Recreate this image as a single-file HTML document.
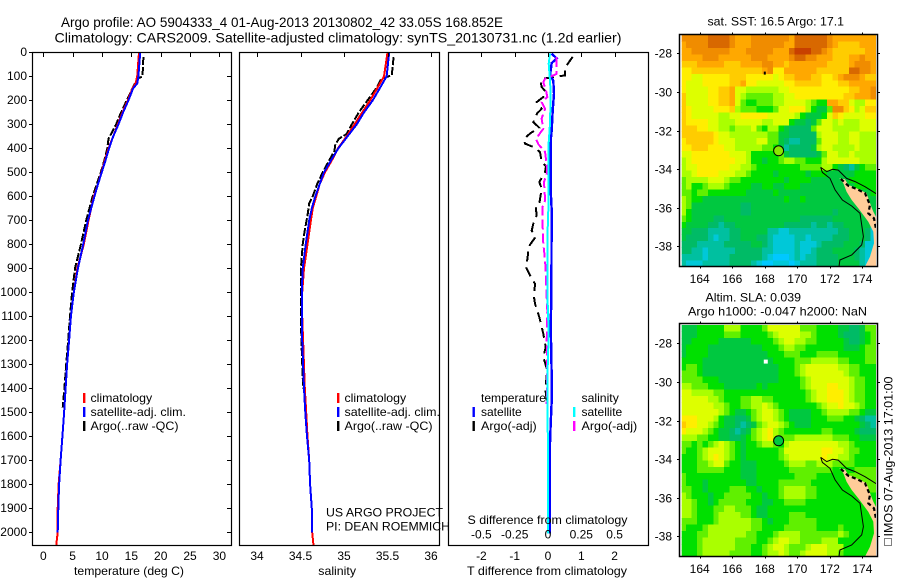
<!DOCTYPE html>
<html lang="en">
<head>
<meta charset="utf-8">
<title>Argo profile 5904333_4</title>
<style>
html,body{margin:0;padding:0;background:#fff;}
svg{display:block;font-family:"Liberation Sans",sans-serif;font-size:12px;fill:#000;}
.frame{fill:none;stroke:#000;stroke-width:1.2;}
</style>
</head>
<body>
<svg id="chart" xmlns="http://www.w3.org/2000/svg" width="900" height="580" viewBox="0 0 900 580">
  <defs>
    <clipPath id="map1clip"><rect x="681.7" y="35" width="194.3" height="231"/></clipPath>
    <clipPath id="map2clip"><rect x="681.7" y="325" width="194.3" height="231"/></clipPath>
  </defs>
  <rect x="0" y="0" width="900" height="580" fill="#fff"/>
  <text x="61" y="27" font-size="14" textLength="442" lengthAdjust="spacingAndGlyphs">Argo profile: AO 5904333_4 01-Aug-2013 20130802_42 33.05S 168.852E</text>
  <text x="54.5" y="42.5" font-size="14" textLength="567" lengthAdjust="spacingAndGlyphs">Climatology: CARS2009. Satellite-adjusted climatology: synTS_20130731.nc (1.2d earlier)</text>

  <g id="marks"></g>
  <g id="maps"></g>
  <g id="axes"></g>

  <rect class="frame" x="32.5" y="52.5" width="199" height="493"/>
  <rect class="frame" x="239.5" y="52.5" width="200" height="493"/>
  <rect class="frame" x="448.5" y="52.5" width="200" height="493"/>
  <rect class="frame" x="679.5" y="34.5" width="198" height="232" style="stroke-width:1.5"/>
  <rect class="frame" x="679.5" y="323.5" width="198" height="233" style="stroke-width:1.5"/>

  <text x="74" y="575" textLength="110" lengthAdjust="spacingAndGlyphs">temperature (deg C)</text>
  <text x="318.3" y="575" textLength="37.7" lengthAdjust="spacingAndGlyphs">salinity</text>
  <text x="467" y="575" textLength="160" lengthAdjust="spacingAndGlyphs">T difference from climatology</text>
  <text x="467.5" y="524" textLength="160" lengthAdjust="spacingAndGlyphs">S difference from climatology</text>

  <rect x="83" y="393" width="2.4" height="10" fill="#f00"/>
  <text x="90.5" y="402" textLength="61.7" lengthAdjust="spacingAndGlyphs">climatology</text>
  <rect x="83" y="407" width="2.4" height="10" fill="#00f"/>
  <text x="90.5" y="416" textLength="95.5" lengthAdjust="spacingAndGlyphs">satellite-adj. clim.</text>
  <rect x="83" y="421" width="2.4" height="10" fill="#000"/>
  <text x="90.5" y="430" textLength="88" lengthAdjust="spacingAndGlyphs">Argo(..raw -QC)</text>

  <rect x="337" y="393" width="2.4" height="10" fill="#f00"/>
  <text x="344.5" y="402" textLength="61.7" lengthAdjust="spacingAndGlyphs">climatology</text>
  <rect x="337" y="407" width="2.4" height="10" fill="#00f"/>
  <text x="344.5" y="416" textLength="95.5" lengthAdjust="spacingAndGlyphs">satellite-adj. clim.</text>
  <rect x="337" y="421" width="2.4" height="10" fill="#000"/>
  <text x="344.5" y="430" textLength="88" lengthAdjust="spacingAndGlyphs">Argo(..raw -QC)</text>

  <text x="326" y="516.5" textLength="117" lengthAdjust="spacingAndGlyphs">US ARGO PROJECT</text>
  <text x="326" y="530.5" textLength="124" lengthAdjust="spacingAndGlyphs">PI: DEAN ROEMMICH</text>

  <text x="481" y="402" textLength="65" lengthAdjust="spacingAndGlyphs">temperature</text>
  <rect x="472.5" y="407" width="2.4" height="10" fill="#00f"/>
  <text x="481" y="416" textLength="40.7" lengthAdjust="spacingAndGlyphs">satellite</text>
  <rect x="472.5" y="421" width="2.4" height="10" fill="#000"/>
  <text x="481" y="430" textLength="55.7" lengthAdjust="spacingAndGlyphs">Argo(-adj)</text>
  <text x="581.5" y="402" textLength="37.3" lengthAdjust="spacingAndGlyphs">salinity</text>
  <rect x="573" y="407" width="2.4" height="10" fill="#0ff"/>
  <text x="581.5" y="416" textLength="40.7" lengthAdjust="spacingAndGlyphs">satellite</text>
  <rect x="573" y="421" width="2.4" height="10" fill="#f0f"/>
  <text x="581.5" y="430" textLength="55.7" lengthAdjust="spacingAndGlyphs">Argo(-adj)</text>

  <text x="707.5" y="25.5" textLength="136.5" lengthAdjust="spacingAndGlyphs">sat. SST: 16.5 Argo: 17.1</text>
  <text x="705.5" y="301.5" textLength="95.5" lengthAdjust="spacingAndGlyphs">Altim. SLA: 0.039</text>
  <text x="688" y="315.5" textLength="179" lengthAdjust="spacingAndGlyphs">Argo h1000: -0.047 h2000: NaN</text>

  <rect x="884.5" y="538.5" width="7" height="7" fill="none" stroke="#000" stroke-width="1" stroke-dasharray="1 1"/>
  <text transform="translate(892.5,536.5) rotate(-90)" textLength="160" lengthAdjust="spacingAndGlyphs">IMOS 07-Aug-2013 17:01:00</text>
</svg>

<script>
// ---- profile data ----
const climDepths = [0,100,130,150,200,250,300,350,400,450,500,550,600,700,800,900,1000,1100,1200,1300,1400,1500,1600,1700,1800,1900,2000,2054];
const tempSat = [16.5,16.2,16.0,15.3,14.5,13.6,12.8,11.9,11.2,10.6,9.95,9.3,8.7,7.6,6.8,5.9,5.2,4.7,4.4,4.05,3.8,3.55,3.25,2.95,2.7,2.55,2.45];
const tempClim = [16.3,16.0,15.7,15.2,14.4,13.5,12.7,11.9,11.1,10.5,9.9,9.3,8.6,7.7,6.9,5.8,5.2,4.7,4.4,4.05,3.8,3.55,3.25,2.95,2.6,2.45,2.45,2.2];
const argoTempDepths = [20,100,110,150,200,270,300,360,400,450,500,550,600,700,800,900,1000,1100,1200,1300,1400,1480];
const argoTemp = [17.05,16.9,16.0,15.2,14.2,12.9,12.4,11.1,10.9,10.4,9.8,9.1,8.4,7.3,6.4,5.4,4.9,4.55,4.25,3.9,3.6,3.3];

const salDepths = [0,100,150,200,250,300,350,400,450,500,550,600,650,700,800,900,1000,1100,1200,1400,1500,1600,1700,1800,1900,2000,2054];
const salSat = [35.52,35.49,35.41,35.33,35.23,35.146,35.04,34.935,34.85,34.77,34.72,34.67,34.63,34.6,34.56,34.525,34.515,34.515,34.52,34.54,34.555,34.575,34.6,34.61,34.63,34.635];
const salClim = [35.5,35.46,35.38,35.3,35.21,35.12,35.03,34.93,34.86,34.78,34.72,34.68,34.64,34.62,34.58,34.54,34.52,34.52,34.53,34.55,34.565,34.58,34.6,34.61,34.63,34.635,34.65];
const argoSalDepths = [20,95,110,150,200,250,300,340,360,385,410,450,500,550,600,630,680,750,800,900,1000,1100,1200,1400];
const argoSal = [35.57,35.55,35.43,35.37,35.27,35.17,35.09,35.03,34.94,34.9,34.89,34.83,34.755,34.69,34.64,34.6,34.58,34.545,34.525,34.505,34.505,34.505,34.51,34.53];

const tDiffArgoDepths = [19,44,68,96,110,124,144,165,186,207,235,253,290,314,336,360,380,394,415,457,475,499,540,568,630,644,679,714,742,772,811,853,894,929,964,1019,1047,1103,1172,1228,1269,1325,1401,1450];
const tDiffArgo = [0.74,0.61,0.51,0.51,-0.19,-0.22,-0.19,-0.06,-0.14,-0.34,-0.19,-0.32,-0.44,-0.26,-0.52,-0.72,-0.69,-0.44,-0.24,-0.19,-0.06,-0.09,-0.26,-0.19,-0.26,-0.37,-0.34,-0.44,-0.49,-0.39,-0.59,-0.61,-0.66,-0.54,-0.39,-0.42,-0.39,-0.26,-0.14,-0.07,-0.14,-0.02,-0.08,-0.04];
const sDiffArgoDepths = [19,89,96,110,124,158,186,207,235,276,318,360,383,415,471,499,540,617,644,728,797,867,950,1019,1075,1200,1325,1464];
const sDiffArgo = [0.065,0.065,0.04,-0.022,-0.035,-0.015,-0.005,-0.048,-0.022,-0.048,-0.035,-0.09,-0.072,-0.022,-0.01,-0.005,-0.03,-0.022,-0.042,-0.04,-0.035,-0.022,-0.015,-0.01,-0.005,-0.01,-0.005,-0.01];
const tDiffSatDepths = [5,25,44,96,117,172,242,325,367,575,658,1033,1130,1353,1450,1546,1630,2004];
const tDiffSat = [0.11,0.26,0.11,0.06,0.16,0.18,0.14,0.11,0.08,0.08,0.11,0.1,0.08,0.11,0.11,0.08,0.06,0.06];
const sDiffSatDepths = [5,47,117,172,297,394,644,783,1033,1172,1325,2004];
const sDiffSat = [0.015,0.005,0.015,0.02,0.015,0.003,0.003,-0.005,-0.003,0.005,-0.003,0];

// ---- tick labels ----
const depthTicks = [0,100,200,300,400,500,600,700,800,900,1000,1100,1200,1300,1400,1500,1600,1700,1800,1900,2000];
const tempTicks = [0,5,10,15,20,25,30];
const salTicks = [34,34.5,35,35.5,36];
const tDiffTicks = [-2,-1,0,1,2];
const sDiffTicks = [-0.5,-0.25,0,0.25,0.5];
const lonTicks = [164,166,168,170,172,174];
const latTicks = [-28,-30,-32,-34,-36,-38];

// ---- map data ----
const mapPalette = ['#c84000','#d86800','#f08c00','#ffa800','#ffcc00','#ffee00','#ddff00','#aaff00','#60f000','#00e000','#00c840','#00bb66','#00c0a0','#00c8d8','#00c8ff'];
const sstGrid = [
"222221111233322222223111111233333333",
"322221111233322222233111111234444333",
"332222222333222223331000112344444433",
"333322233333322233332112233344433233",
"444333334443333223343333333444432223",
"554444444444444325533333344444411223",
"556655555444555556544333445543222344",
"566655555443556666655444445554433333",
"566665544366777777665555555555544332",
"466665544367888887766555555555443332",
"466665544368998887766667899334467755",
"456666555478889998665557 9aa82245764444",
"456666677665555566666 79aaa96456666 55",
"455556677766666776669aaba86676777666",
"4445566778777689779abbbb866677777666",
"444444566777777788aabbbbb76667766777",
"544444566677776688abccbbb86667766777",
"554445556677777889acbbbba76677776777",
"665555555666799999 8abbbbba8667767777",
"765555555566799a998 77889997666666777",
"766555555667789999999988887 79abca988",
"77655556667 789999a99999a999aaaaa9999",
"8777766678899999999a9999aaaaaaa99999",
"8799877789999aa99aa999aaaaaaaaaa9999",
"889889999999aaaaa9aaaaaaaaaaaaaaaaa9",
"7899aaaaaaaaaaaaaaa9aa9aaaaaaaaaaaaa",
"78aaaaaaaaabbaaaaaaaaaaaaaaaaaaaaaaa",
"79aaaaaaaaabbaaaaaaaaaaaaaaabaaaaaaa",
"89aaaabbaaaaaaaaaaaaaabbbbbbaaaaaaad",
"9aaaabbcbbaaaaaaaaabbbbbcbbcbbaaaaad",
"aabbbccccbbaaaaaccddcccccccccbbaaabd",
"abbbbcdccbbaaabbcddddccdccccbbbaaabd",
"bbbcccccbbbbbaabcddddcdddcbbbbaaabdd",
"bbccdcccccbbbbbccddddcddcbbbaaaabcdd",
"ccccdccccbbbbbbcdeeedcdccbbbbaaabcde",
"cdddcccccbbbbcdeedddedcccbbbbaaaacde"
];
const slaGrid = [
"aaa99999777999986666668889999aabba88",
"aaa99999888999998766667789999abbba98",
"aa99999aaaaaa99998766778899999abba98",
"a9999aaaaaaaaaa999877889999999aaa988",
"a9999aaaaaaaaaaa99988899988889999988",
"9999aaaaaaaaaaaaa9999888777778899988",
"9889aaaaaaaaaaaaaa999876666667788999",
"8889aaaaaaaaaaaaaa999876666666788999",
"8888999aaaaaaaaaaa999987666666678899",
"77888999aaaaaa9a99999987666556678899",
"66777788999999999999999876655567 8899",
"666667789998877889999998766555678899",
"666666778998877678999999987665667899",
"666666678 9aa98766789aaaa9987777889aa",
"5556667 9aabba876678 9aaaa9998889 9abc",
"45566789aabcba876678 9aaa999999999abc",
"566678 9aabcba87657899999998899 99abb",
"77788 99aabba9876578887777777888 99aa",
"889898 76789a99877897666666666778 999",
"899876667 89a9999998666666655667 8899",
"99987656789a999999876666665667 78999",
"99988766899aaa99999877788777888 8999",
"99988888999aaa999999888888889999888",
"89999999999aaa99999998888999999 888",
"8999a9999999aa99998888889 99999 9998",
"8899a9999888 99a99987777889 99999998",
"78999a998888899a99877778899999999 9",
"77899a988888999aa99888899999999 999",
"7789998877888 9aa99999999999999 9999",
"7789998777788 9aa9999 88899999999999",
"88899987777778 89a999888889 99999999",
"89998777777778 89999888888999 9 89999",
"99988777777788 9998777788888 8 87899",
"999877777788 8899876677888 8 7779999",
"99987777778 889987667 888766677 79999",
"99987777788 8899877678 87666677 8 999"
];
const floatLon = [168.85];
const floatLat = [-33.05];
const landLon = [172.58,172.93,173.13,173.65,174.26,174.51,174.67,174.88,174.92,174.16,174.47,174.71,174.67,174.36,173.75,173.34,173.03,172.83];
const landLat = [-34.48,-34.53,-34.82,-35.0,-35.25,-35.86,-36.2,-36.55,-39.05,-39.05,-38.54,-37.84,-37.24,-36.73,-36.03,-35.6,-35.17,-34.74];
const shelfLon = [171.44,171.54,172.01,172.32,172.77,173.34,173.85,174.06,173.96,173.34,172.62,172.56];
const shelfLat = [-33.91,-34.17,-34.48,-35.08,-35.6,-35.91,-36.29,-37.5,-37.93,-38.45,-38.71,-39.05];
const northShelfLon = [171.44,171.81,172.17,172.52,173.03,173.55,174.16,174.88];
const northShelfLat = [-33.91,-34.13,-34.01,-34.05,-34.48,-34.65,-34.91,-35.29];
const coastLon = [172.67,173.13,173.65,174.16,174.47,174.36,174.71,174.83];
const coastLat = [-34.51,-34.86,-35.03,-35.25,-35.86,-36.29,-36.55,-37.07];

// ---- axis functions ----
const SVGNS = 'http://www.w3.org/2000/svg';
const depthY = d => 52.4 + d * 0.24;
const tempX = t => 43.3 + t * 5.87;
const salX = s => 257 + (s - 34) * 87;
const tDiffX = t => 548 + t * 33.3;
const sDiffX = s => 548 + s * 133.2;
const lonX = lon => 699.7 + (lon - 164) * 16.27;
const latY = lat => 53.3 + (-28 - lat) * 19.3;
const MAP2_SHIFT = 290;

const marks = document.getElementById('marks');
const mapsG = document.getElementById('maps');
const axes = document.getElementById('axes');

function mk(tag, attrs, parent) {
  const el = document.createElementNS(SVGNS, tag);
  for (const k in attrs) el.setAttribute(k, attrs[k]);
  parent.appendChild(el);
  return el;
}
function profile(xs, ds, xf, color, width, dash) {
  const pts = xs.map((v, i) => xf(v).toFixed(1) + ',' + depthY(ds[i]).toFixed(1)).join(' ');
  const a = {points: pts, fill: 'none', stroke: color, 'stroke-width': width, 'shape-rendering': 'crispEdges'};
  if (dash) a['stroke-dasharray'] = dash;
  return mk('polyline', a, marks);
}

// temperature panel
let el;
el = profile(argoTemp, argoTempDepths, tempX, '#000', 2, '8 2');


el = profile(tempClim, climDepths, tempX, '#f00', 2);


el = profile(tempSat, climDepths, tempX, '#00f', 2);



// salinity panel
el = profile(argoSal, argoSalDepths, salX, '#000', 2, '8 2');


el = profile(salClim, salDepths, salX, '#f00', 2);


el = profile(salSat, salDepths, salX, '#00f', 2);



// difference panel
el = profile(tDiffArgo, tDiffArgoDepths, tDiffX, '#000', 2, '10 6');


el = profile(tDiffSat, tDiffSatDepths, tDiffX, '#00f', 2.4);


el = profile(sDiffArgo, sDiffArgoDepths, sDiffX, '#f0f', 2, '10 4');


el = profile(sDiffSat, sDiffSatDepths, sDiffX, '#0ff', 2);



// depth labels and ticks
depthTicks.forEach(d => {
  const y = Math.floor(depthY(d)) + 0.5;
  const lbl = mk('text', {x: 27, y: y + 3.5, 'text-anchor': 'end'}, axes);
  lbl.textContent = String(d);
  
  
  const t1 = mk('line', {x1: 29, x2: 32.5, y1: y, y2: y, stroke: '#000'}, axes);
  
  
  const t2 = mk('line', {x1: 227, x2: 231.5, y1: y, y2: y, stroke: '#000'}, axes);
  
  
});

function topTick(x) {
  const rx = Math.round(x) + 0.5;
  return mk('line', {x1: rx, x2: rx, y1: 52.5, y2: 57, stroke: '#000'}, axes);
}
function bottomLabel(x, y, s) {
  const t = mk('text', {x: x, y: y, 'text-anchor': 'middle'}, axes);
  t.textContent = s;
  return t;
}
tempTicks.forEach(v => {
  const tk = topTick(tempX(v));
  
  
  const lb = bottomLabel(tempX(v), 560, String(v));
  
  
});
salTicks.forEach(v => {
  const tk = topTick(salX(v));
  
  
  const lb = bottomLabel(salX(v), 560, String(v));
  
  
});
tDiffTicks.forEach(v => {
  const tk = topTick(tDiffX(v));
  
  
  const lb = bottomLabel(tDiffX(v), 560, String(v));
  
  
});
sDiffTicks.forEach(v => {
  const lb = bottomLabel(sDiffX(v), 538.5, String(v));
  
  
});

// maps
function drawMap(grid, shift, clipId, dotFill) {
  const g = mk('g', {'clip-path': 'url(#' + clipId + ')'}, mapsG);
  grid.forEach((rowStr, r) => {
    const clean = rowStr.replace(/ /g, '');
    const row = clean.padEnd(36, clean.slice(-1)).slice(0, 36);
    for (let c = 0; c < 36; c++) {
      const lon = 163 + c / 3;
      const lat = -27.23 - r / 3;
      const x0 = lonX(lon - 1 / 6), x1 = lonX(lon + 1 / 6);
      const y0 = latY(lat + 1 / 6) + shift, y1 = latY(lat - 1 / 6) + shift;
      const cell = mk('rect', {x: x0.toFixed(2), y: y0.toFixed(2), width: (x1 - x0 + 0.4).toFixed(2), height: (y1 - y0 + 0.4).toFixed(2), fill: mapPalette[parseInt(row[c], 16)], 'shape-rendering': 'crispEdges'}, g);
      
      
    }
  });
  const toPts = (lons, lats) => lons.map((v, i) => lonX(v).toFixed(1) + ',' + (latY(lats[i]) + shift).toFixed(1)).join(' ');
  const land = mk('polygon', {points: toPts(landLon, landLat), fill: '#ffcc99'}, g);
  
  
  const coast = mk('polyline', {points: toPts(coastLon, coastLat), fill: 'none', stroke: '#000', 'stroke-width': 2.2, 'stroke-dasharray': '4 3'}, g);
  
  
  const shelf = mk('polyline', {points: toPts(shelfLon, shelfLat), fill: 'none', stroke: '#000', 'stroke-width': 1}, g);
  
  
  const shelfN = mk('polyline', {points: toPts(northShelfLon, northShelfLat), fill: 'none', stroke: '#000', 'stroke-width': 1}, g);
  
  
  const dot = mk('circle', {cx: lonX(floatLon[0]), cy: latY(floatLat[0]) + shift, r: 5, fill: dotFill, stroke: '#000', 'stroke-width': 1}, g);
  
  

  lonTicks.forEach(v => {
    const x = Math.round(lonX(v)) + 0.5;
    const top = shift ? 323.5 : 34.5;
    const bot = shift ? 556.5 : 266.5;
    const a = mk('line', {x1: x, x2: x, y1: top - 2, y2: top, stroke: '#000'}, axes);
    
    
    const b = mk('line', {x1: x, x2: x, y1: bot, y2: bot + 2, stroke: '#000'}, axes);
    
    
    const lb = mk('text', {x: lonX(v), y: shift ? 573 : 283, 'text-anchor': 'middle'}, axes);
    lb.textContent = String(v);
    
    
  });
  latTicks.forEach(v => {
    const y = Math.round(latY(v) + shift) + 0.5;
    const a = mk('line', {x1: 677, x2: 679.5, y1: y, y2: y, stroke: '#000'}, axes);
    
    
    const b = mk('line', {x1: 877.5, x2: 880, y1: y, y2: y, stroke: '#000'}, axes);
    
    
    const lb = mk('text', {x: 672, y: y + 4, 'text-anchor': 'end'}, axes);
    lb.textContent = String(v);
    
    
  });
}
drawMap(sstGrid, 0, 'map1clip', '#88e800');
drawMap(slaGrid, MAP2_SHIFT, 'map2clip', '#00c840');

// missing-data specks near 168E 29S
el = mk('rect', {x: lonX(168) - 1, y: latY(-29) - 1, width: 2, height: 3, fill: '#000'}, mapsG);


el = mk('rect', {x: lonX(168) - 1, y: latY(-29) - 3 + MAP2_SHIFT, width: 4, height: 4, fill: '#fff'}, mapsG);


</script>
</body>
</html>
